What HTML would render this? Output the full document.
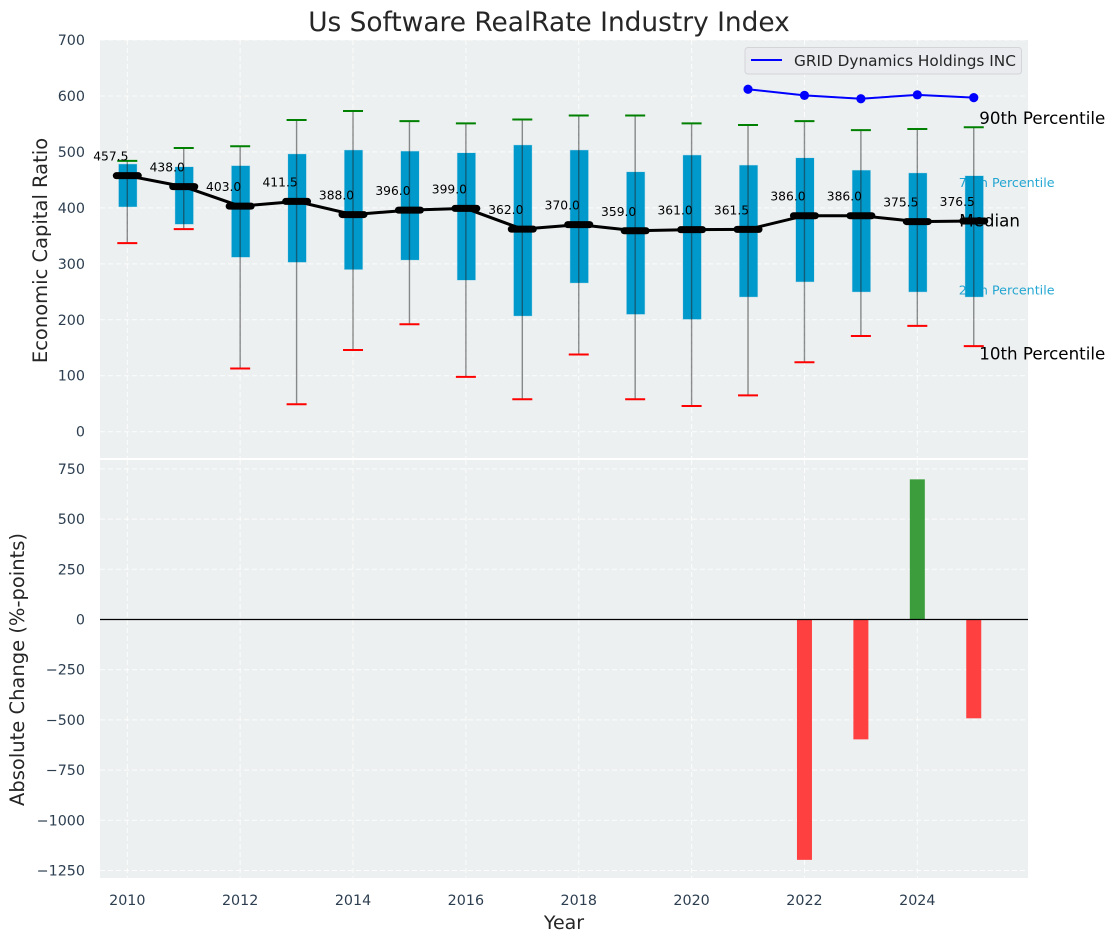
<!DOCTYPE html>
<html lang="en">
<head>
<meta charset="utf-8">
<title>Us Software RealRate Industry Index</title>
<style>
html,body{margin:0;padding:0;background:#fff;width:1114px;height:942px;overflow:hidden}
svg{display:block;font-family:"DejaVu Sans","Liberation Sans",sans-serif}
</style>
</head>
<body>
<svg id="chart" xmlns="http://www.w3.org/2000/svg" width="1114" height="942" viewBox="0 0 1114 942">
  <rect width="1114" height="942" fill="#fff"/>
  <rect x="100" y="40" width="928" height="418" fill="#ecf0f1"/>
  <rect x="100" y="460" width="928" height="418" fill="#ecf0f1"/>
  <g id="grid"></g>
  <g id="ticks"></g>
  <g id="under"></g>
  <g id="boxes"></g>
  <g id="bars"></g>
  <line id="zero" x1="100" x2="1028" stroke="#000" stroke-width="1.2"/>
  <g id="whiskers"></g>
  <g id="company"></g>
  <g id="over"></g>
  <g id="median"></g>
  <g id="values"></g>
  <text x="549" y="31" text-anchor="middle" font-size="26.4" fill="#262626">Us Software RealRate Industry Index</text>
  <text transform="translate(47,250.5) rotate(-90)" text-anchor="middle" font-size="19.5" fill="#262626">Economic Capital Ratio</text>
  <text transform="translate(24,669.5) rotate(-90)" text-anchor="middle" font-size="19.5" fill="#262626">Absolute Change (%-points)</text>
  <text x="564" y="929" text-anchor="middle" font-size="19" fill="#262626">Year</text>
  <g>
    <rect x="745" y="47.5" width="276.5" height="26.5" rx="3" fill="#e9ebef" stroke="#d3d5d8" stroke-width="1"/>
    <line x1="751" x2="782" y1="60" y2="60" stroke="#0000ff" stroke-width="2"/>
    <text x="794" y="66" font-size="15.3" fill="#262626">GRID Dynamics Holdings INC</text>
  </g>
</svg>
<script>
const years = [2010,2011,2012,2013,2014,2015,2016,2017,2018,2019,2020,2021,2022,2023,2024,2025];
const p90 = [484,507,510,557,573,555,551,558,565,565,551,548,555,539,541,544];
const p75 = [478,473,475,496,503,501,498,512,503,464,494,476,489,467,462,457];
const medians = [457.5,438,403,411.5,388,396,399,362,370,359,361,361.5,386,386,375.5,376.5];
const p25 = [402,371,312,303,290,307,271,207,266,210,201,241,268,250,250,241];
const p10 = [337,362,113,49,146,192,98,58,138,58,46,65,124,171,189,153];
const companyYears = [2021,2022,2023,2024,2025];
const companyValues = [612,601,595,602,597];
const changeYears = [2022,2023,2024,2025];
const changeValues = [-1197,-597,698,-492];
const topTicks = [0,100,200,300,400,500,600,700];
const bottomTicks = [750,500,250,0,-250,-500,-750,-1000,-1250];
const xTicks = [2010,2012,2014,2016,2018,2020,2022,2024];

const NS = 'http://www.w3.org/2000/svg';
const xScale = v => 127.3 + (v - 2010) * 56.43;
const yTop = v => 431.7 - v * 0.5596;
const yBot = v => 619.5 - v * 0.2008;
const pxW = 56.43;
function make(tag, attrs, parentId, txt) {
  const n = document.createElementNS(NS, tag);
  for (const k in attrs) n.setAttribute(k, attrs[k]);
  if (txt !== undefined) n.textContent = txt;
  document.getElementById(parentId).appendChild(n);
  return n;
}
let el;
document.getElementById('zero').setAttribute('y1', yBot(0));
document.getElementById('zero').setAttribute('y2', yBot(0));

xTicks.forEach(v => {
  el = make('line', {x1:xScale(v), x2:xScale(v), y1:40, y2:458, stroke:'#fff', 'stroke-width':1, 'stroke-dasharray':'5 3', opacity:.85}, 'grid');
  
  
  el = make('line', {x1:xScale(v), x2:xScale(v), y1:460, y2:878, stroke:'#fff', 'stroke-width':1, 'stroke-dasharray':'5 3', opacity:.85}, 'grid');
  
  
  el = make('text', {x:xScale(v), y:905, 'text-anchor':'middle', 'font-size':14.3, fill:'#2c3e50'}, 'ticks', String(v));
  
  
});
topTicks.forEach(v => {
  el = make('line', {x1:100, x2:1028, y1:yTop(v), y2:yTop(v), stroke:'#fff', 'stroke-width':1, 'stroke-dasharray':'5 3', opacity:.85}, 'grid');
  
  
  el = make('text', {x:85, y:yTop(v) + 5, 'text-anchor':'end', 'font-size':14.3, fill:'#2c3e50'}, 'ticks', String(v));
  
  
});
bottomTicks.forEach(v => {
  el = make('line', {x1:100, x2:1028, y1:yBot(v), y2:yBot(v), stroke:'#fff', 'stroke-width':1, 'stroke-dasharray':'5 3', opacity:.85}, 'grid');
  
  
  el = make('text', {x:85, y:yBot(v) + 5, 'text-anchor':'end', 'font-size':14.3, fill:'#2c3e50'}, 'ticks', String(v).replace('-', '\u2212'));
  
  
});

const last = years.length - 1;
el = make('text', {x:xScale(years[last]) - 15, y:yTop(p75[last]) + 11, 'font-size':12.7, fill:'#0099cc', opacity:.85}, 'under', '75th Percentile');


el = make('text', {x:xScale(years[last]) - 15, y:yTop(p25[last]) - 2.5, 'font-size':12.7, fill:'#0099cc', opacity:.85}, 'under', '25th Percentile');



years.forEach((yr, i) => {
  const cx = xScale(yr);
  el = make('rect', {x:cx - 0.16 * pxW + 0.5, y:yTop(p75[i]), width:0.32 * pxW, height:yTop(p25[i]) - yTop(p75[i]), fill:'#0099cc', stroke:'#0099cc', 'stroke-opacity':.2, 'stroke-width':1}, 'boxes');
  
  
  el = make('line', {x1:cx, x2:cx, y1:yTop(p90[i]), y2:yTop(p10[i]), stroke:'#222', 'stroke-opacity':.5, 'stroke-width':1.4}, 'whiskers');
  
  
  el = make('line', {x1:cx - 10, x2:cx + 10, y1:yTop(p90[i]), y2:yTop(p90[i]), stroke:'#008000', 'stroke-width':2}, 'whiskers');
  
  
  el = make('line', {x1:cx - 10, x2:cx + 10, y1:yTop(p10[i]), y2:yTop(p10[i]), stroke:'#ff0000', 'stroke-width':2}, 'whiskers');
  
  
});

changeYears.forEach((yr, i) => {
  const v = changeValues[i];
  const top = Math.min(yBot(v), yBot(0));
  el = make('rect', {x:xScale(yr) - 7.5, y:top, width:15, height:Math.abs(yBot(v) - yBot(0)), fill:v >= 0 ? '#3c9d3c' : '#ff4040'}, 'bars');
  
  
});

el = make('polyline', {points:companyYears.map((y, i) => xScale(y) + ',' + yTop(companyValues[i])).join(' '), fill:'none', stroke:'#0000ff', 'stroke-width':2}, 'company');


companyYears.forEach((y, i) => {
  el = make('circle', {cx:xScale(y), cy:yTop(companyValues[i]), r:4.6, fill:'#0000ff'}, 'company');
  
  
});

el = make('text', {x:xScale(years[last]) + 5.5, y:yTop(p90[last]) - 3.5, 'font-size':16.7, fill:'#000'}, 'over', '90th Percentile');


el = make('text', {x:xScale(years[last]) + 5.5, y:yTop(p10[last]) + 13.5, 'font-size':16.7, fill:'#000'}, 'over', '10th Percentile');


el = make('text', {x:xScale(years[last]) - 14.5, y:yTop(medians[last]) + 5.5, 'font-size':16.7, fill:'#000'}, 'over', 'Median');



el = make('polyline', {points:years.map((y, i) => xScale(y) + ',' + yTop(medians[i])).join(' '), fill:'none', stroke:'#000', 'stroke-width':3}, 'median');


years.forEach((yr, i) => {
  const cx = xScale(yr), cy = yTop(medians[i]);
  el = make('line', {x1:cx - 11, x2:cx + 11, y1:cy, y2:cy, stroke:'#000', 'stroke-width':7, 'stroke-linecap':'round'}, 'median');
  
  
  el = make('text', {x:cx - 16.5, y:cy - 15, 'text-anchor':'middle', 'font-size':12.3, fill:'#000'}, 'values', medians[i].toFixed(1));
  
  
});
</script>
</body>
</html>
